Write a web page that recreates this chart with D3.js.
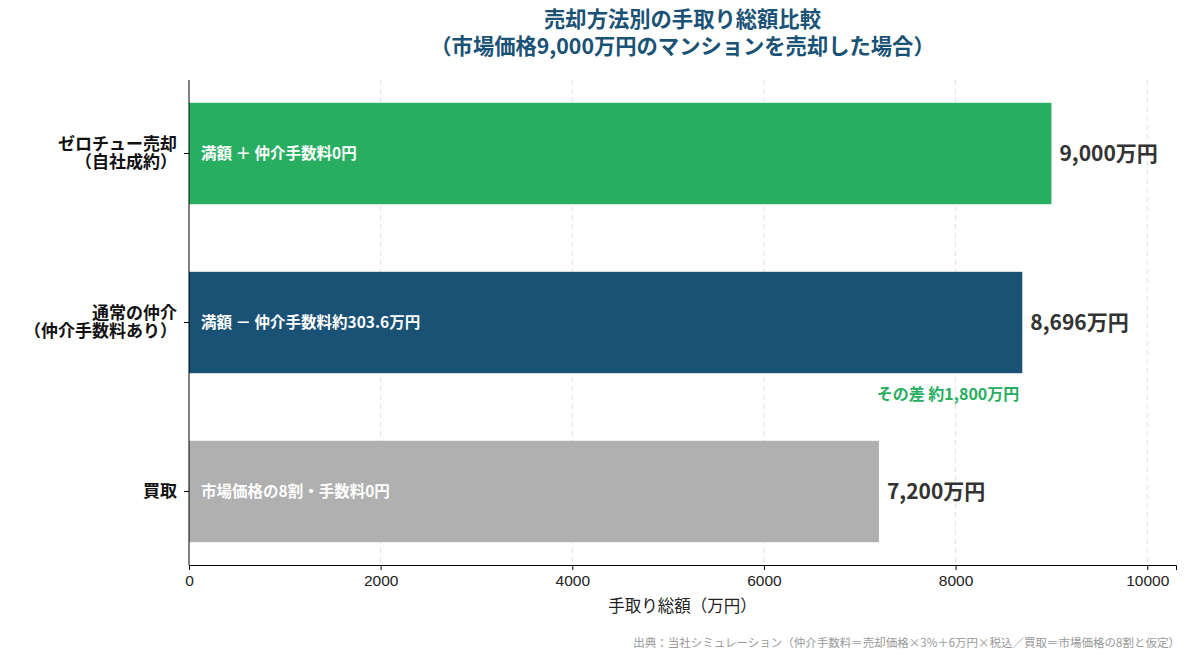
<!DOCTYPE html>
<html lang="ja">
<head>
<meta charset="UTF-8">
<title>売却方法別の手取り総額比較</title>
<style>
    body {
        margin: 0;
        background: #fff;
        font-family: "Noto Sans CJK JP", "Noto Sans", sans-serif;
    }
    .grid line {
        stroke: #ccc;
        stroke-dasharray: 5,4;
        stroke-opacity: 0.6;
    }
    .axis text {
        font-size: 15.5px;
        fill: #222;
    }
</style>
</head>
<body>
<svg id="chart" width="1194" height="661"></svg>
<script src="https://cdnjs.cloudflare.com/ajax/libs/d3/7.8.5/d3.min.js"></script>
<script>
    const categories = ['ゼロチュー売却\n（自社成約）', '通常の仲介\n（仲介手数料あり）', '買取'];
    const values = [9000, 8696, 7200];
    const valueLabels = ['9,000万円', '8,696万円', '7,200万円'];
    const innerLabels = ['満額 ＋ 仲介手数料0円', '満額 － 仲介手数料約303.6万円', '市場価格の8割・手数料0円'];
    const colors = ['#27ae60', '#1a5276', '#b0b0b0'];
    const xTicks = [0, 2000, 4000, 6000, 8000, 10000];
    const diffLabel = 'その差 約1,800万円';
    const titleLines = ['売却方法別の手取り総額比較', '（市場価格9,000万円のマンションを売却した場合）'];

    const svg = d3.select('#chart');
    const plotLeft = 189, plotRight = 1176, plotTop = 80, plotBottom = 565;

    const x = d3.scaleLinear().domain([0, 10300]).range([plotLeft, plotRight]);
    const y = d3.scaleBand()
        .domain(categories)
        .range([plotTop, plotBottom])
        .paddingInner(0.4)
        .paddingOuter(0.135);

    // grid
    svg.append('g')
        .attr('class', 'grid')
        .selectAll('line')
        .data(xTicks.slice(1))
        .join('line')
        .attr('x1', d => x(d)).attr('x2', d => x(d))
        .attr('y1', plotTop).attr('y2', plotBottom);

    // bars
    svg.append('g')
        .selectAll('rect')
        .data(values)
        .join('rect')
        .attr('x', x(0))
        .attr('y', (d, i) => y(categories[i]))
        .attr('width', d => x(d) - x(0))
        .attr('height', y.bandwidth())
        .attr('fill', (d, i) => colors[i]);

    // text inside bars
    svg.append('g')
        .selectAll('text')
        .data(innerLabels)
        .join('text')
        .attr('x', x(0) + 12)
        .attr('y', (d, i) => y(categories[i]) + y.bandwidth() / 2)
        .attr('dy', '0.35em')
        .attr('fill', '#fff')
        .attr('font-size', 15.5)
        .attr('font-weight', 'bold')
        .text(d => d);

    // value labels
    svg.append('g')
        .selectAll('text')
        .data(values)
        .join('text')
        .attr('x', d => x(d) + 8)
        .attr('y', (d, i) => y(categories[i]) + y.bandwidth() / 2)
        .attr('dy', '0.35em')
        .attr('fill', '#333')
        .attr('font-size', 21)
        .attr('font-weight', 'bold')
        .text((d, i) => valueLabels[i]);

    // difference annotation
    svg.append('text')
        .attr('x', x(values[1]) - 3)
        .attr('y', y(categories[1]) + y.bandwidth() + 21)
        .attr('dy', '0.35em')
        .attr('text-anchor', 'end')
        .attr('fill', '#27ae60')
        .attr('font-size', 16)
        .attr('font-weight', 'bold')
        .text(diffLabel);

    // x axis
    const xAxis = svg.append('g')
        .attr('class', 'axis')
        .attr('transform', `translate(0,${plotBottom})`)
        .call(d3.axisBottom(x).tickValues(xTicks).tickFormat(d3.format('d')).tickSize(5).tickPadding(5));
    xAxis.select('.domain').attr('stroke', '#000');

    // y axis
    const yAxis = svg.append('g')
        .attr('class', 'axis')
        .attr('transform', `translate(${plotLeft},0)`)
        .call(d3.axisLeft(y).tickSize(5).tickFormat(''));
    yAxis.select('.domain').attr('stroke', '#000').attr('d', `M0,${plotTop}V${plotBottom}`);

    // category labels, one text per line
    const catRows = [];
    categories.forEach(c => {
        const lines = c.split('\n');
        const mid = y(c) + y.bandwidth() / 2;
        lines.forEach((line, i) => {
            const off = lines.length === 1 ? 0 : (i === 0 ? -9 : 9);
            catRows.push({ text: line, y: mid + off });
        });
    });
    svg.append('g')
        .selectAll('text')
        .data(catRows)
        .join('text')
        .attr('x', plotLeft - 12)
        .attr('y', d => d.y)
        .attr('dy', '0.35em')
        .attr('text-anchor', 'end')
        .attr('font-size', 17)
        .attr('font-weight', 'bold')
        .attr('fill', '#111')
        .text(d => d.text);

    // x label
    svg.append('text')
        .attr('x', (plotLeft + plotRight) / 2)
        .attr('y', 612)
        .attr('text-anchor', 'middle')
        .attr('font-size', 16.5)
        .attr('fill', '#222')
        .text('手取り総額（万円）');

    // title
    svg.append('g')
        .selectAll('text')
        .data(titleLines)
        .join('text')
        .attr('x', (plotLeft + plotRight) / 2)
        .attr('y', (d, i) => 20 + i * 27)
        .attr('dy', '0.35em')
        .attr('text-anchor', 'middle')
        .attr('fill', '#1a5276')
        .attr('font-size', 21.3)
        .attr('font-weight', 'bold')
        .text(d => d);

    // footnote
    svg.append('text')
        .attr('x', plotRight + 4)
        .attr('y', 647)
        .attr('text-anchor', 'end')
        .attr('font-size', 11.5)
        .attr('fill', '#999')
        .text('出典：当社シミュレーション（仲介手数料＝売却価格×3%＋6万円×税込／買取＝市場価格の8割と仮定）');
</script>
</body>
</html>
